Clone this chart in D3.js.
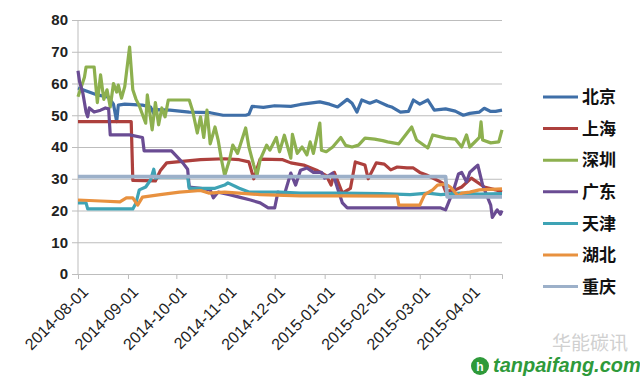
<!DOCTYPE html>
<html lang="zh">
<head>
<meta charset="UTF-8">
<title>碳价走势</title>
<script src="https://cdn.jsdelivr.net/npm/d3@7"></script>
<style>
  body { margin: 0; background: #fff; }
  #chart { width: 640px; height: 384px; }
  .ytick text { font: bold 15px "Liberation Sans", Arial, sans-serif; fill: #222; }
  .xtick text { font: 16px "Liberation Sans", Arial, sans-serif; fill: #222; }
  .legend text { font: bold 17px "Noto Sans CJK SC", sans-serif; fill: #111; }
</style>
</head>
<body>
<div id="chart"></div>
<script>
  // series names, in drawing order
  var names = ["北京", "上海", "深圳", "广东", "天津", "湖北", "重庆"];
  var colors = ["#3f6fa8", "#ad403d", "#8db04f", "#6a4c93", "#3ea3b5", "#e8913f", "#9cb0c9"];
  var yTicks = [0, 10, 20, 30, 40, 50, 60, 70, 80];

  var beijing = [["2014-08-01",58.6],["2014-08-07",57.5],["2014-08-13",56.4],["2014-08-20",55.7],["2014-08-23",53.5],
    ["2014-08-25",48],["2014-08-26",53.2],["2014-08-30",53.5],["2014-09-10",53.2],["2014-09-15",52.6],["2014-09-17",50.5],
    ["2014-09-19",51.8],["2014-09-27",51.6],["2014-10-09",51],["2014-10-22",50.8],["2014-10-30",50],["2014-11-13",50],
    ["2014-11-15",50.3],["2014-11-17",52.8],["2014-11-24",52.5],["2014-12-01",53],["2014-12-11",52.8],["2014-12-17",53.4],
    ["2014-12-23",53.8],["2014-12-29",54.2],["2015-01-04",53.5],["2015-01-09",52.6],["2015-01-15",55],["2015-01-18",53.8],
    ["2015-01-21",51],["2015-01-24",54.8],["2015-01-29",53.8],["2015-02-02",54.6],["2015-02-09",53],["2015-02-12",52.5],
    ["2015-02-17",51],["2015-02-22",51.2],["2015-02-25",54.8],["2015-03-01",53.5],["2015-03-06",54.8],["2015-03-10",51.6],
    ["2015-03-17",52],["2015-03-23",51.3],["2015-03-28",50],["2015-04-01",50.6],["2015-04-07",51],["2015-04-10",52.2],
    ["2015-04-14",51.2],["2015-04-17",51.2],["2015-04-21",51.6]];

  var shanghai = [["2014-08-01",48],["2014-09-03",48],["2014-09-04",29.5],["2014-09-18",29.3],["2014-09-21",32.5],
    ["2014-09-25",35],["2014-10-03",35.4],["2014-10-16",36],["2014-10-31",36.3],["2014-11-09",36],["2014-11-15",35.3],
    ["2014-11-18",30],["2014-11-22",36.2],["2014-12-06",36],["2014-12-11",35],["2014-12-19",34.3],["2014-12-27",32.7],
    ["2015-01-02",31],["2015-01-05",28],["2015-01-07",32],["2015-01-12",25.5],["2015-01-17",27],["2015-01-20",35.3],
    ["2015-01-26",34.3],["2015-01-28",30],["2015-02-02",35],["2015-02-07",34.6],["2015-02-11",32.8],["2015-02-15",33.7],
    ["2015-02-21",33.4],["2015-02-25",33.4],["2015-03-01",32],["2015-03-06",31],["2015-03-10",30],["2015-03-15",28.7],
    ["2015-03-17",26],["2015-03-23",26.5],["2015-03-27",27.4],["2015-04-02",30.2],["2015-04-10",27.4],["2015-04-17",26.5],
    ["2015-04-21",25.8]];

  var shenzhen = [["2014-08-01",55.8],["2014-08-05",62],["2014-08-06",65.2],["2014-08-11",65.2],["2014-08-13",54],
    ["2014-08-15",62.7],["2014-08-17",55],["2014-08-19",58],["2014-08-21",52.6],["2014-08-23",60],["2014-08-25",57.3],
    ["2014-08-26",59.5],["2014-08-28",55.4],["2014-08-30",59],["2014-09-02",71.5],["2014-09-04",58],["2014-09-06",55],
    ["2014-09-08",53],["2014-09-12",47.5],["2014-09-13",56.4],["2014-09-16",45.4],["2014-09-18",54],["2014-09-20",47],
    ["2014-09-22",52.3],["2014-09-24",49.5],["2014-09-26",54.8],["2014-10-09",54.8],["2014-10-11",51.6],["2014-10-14",44.4],
    ["2014-10-16",49.5],["2014-10-18",43],["2014-10-20",51.6],["2014-10-22",41],["2014-10-25",46.3],["2014-10-27",42],
    ["2014-10-29",36],["2014-10-31",31],["2014-11-03",36],["2014-11-05",40.6],["2014-11-08",38],["2014-11-13",46],
    ["2014-11-15",40],["2014-11-18",34.3],["2014-11-20",31],["2014-11-22",36],["2014-11-26",40.6],["2014-11-28",39],
    ["2014-12-02",43],["2014-12-04",38.5],["2014-12-07",43.7],["2014-12-11",36.5],["2014-12-12",44],["2014-12-15",38],
    ["2014-12-18",40],["2014-12-21",37.5],["2014-12-23",41.6],["2014-12-25",38],["2014-12-29",47.5],["2014-12-30",39],
    ["2015-01-02",38.5],["2015-01-06",40],["2015-01-11",43],["2015-01-14",40.5],["2015-01-18",40],["2015-01-22",40.6],
    ["2015-01-26",42.8],["2015-02-01",42.5],["2015-02-06",42],["2015-02-09",41.6],["2015-02-16",41],["2015-02-24",46.3],
    ["2015-02-27",42.2],["2015-03-06",39.7],["2015-03-09",43.8],["2015-03-17",42.8],["2015-03-23",42.5],["2015-03-27",40],
    ["2015-03-30",43.8],["2015-04-01",40],["2015-04-04",41.5],["2015-04-07",43],["2015-04-08",47.9],["2015-04-09",42.2],
    ["2015-04-14",41.3],["2015-04-19",41.6],["2015-04-21",45.4]];

  var guangdong = [["2014-08-01",64],["2014-08-02",60.5],["2014-08-04",57],["2014-08-06",51],["2014-08-07",49.5],
    ["2014-08-08",52.3],["2014-08-11",51],["2014-08-15",51.6],["2014-08-18",52.3],["2014-08-20",52],["2014-08-21",43.8],
    ["2014-09-02",43.8],["2014-09-10",43],["2014-09-11",38.8],["2014-09-28",38.8],["2014-10-05",35],["2014-10-08",33],
    ["2014-10-09",27.4],["2014-10-16",27],["2014-10-22",26.5],["2014-10-24",24],["2014-10-27",25.8],["2014-11-03",25],
    ["2014-11-09",24.2],["2014-11-16",23.3],["2014-11-22",22.4],["2014-11-27",20.8],["2014-12-01",20.8],["2014-12-03",25.8],
    ["2014-12-07",25],["2014-12-11",31.8],["2014-12-14",28],["2014-12-17",32.7],["2014-12-21",33.4],["2014-12-25",32],
    ["2014-12-30",32],["2015-01-01",30.2],["2015-01-06",31.8],["2015-01-09",27],["2015-01-12",22.4],["2015-01-15",20.8],
    ["2015-03-14",20.8],["2015-03-17",20.2],["2015-03-22",26.5],["2015-03-25",31.5],["2015-03-27",32],["2015-03-30",29],
    ["2015-04-01",32],["2015-04-04",33.4],["2015-04-06",34.3],["2015-04-09",28],["2015-04-14",21.7],["2015-04-15",17.8],
    ["2015-04-18",20.2],["2015-04-20",18.8],["2015-04-21",20]];

  var tianjin = [["2014-08-01",22.4],["2014-08-06",22.4],["2014-08-07",20.5],["2014-09-04",20.5],["2014-09-06",22.4],
    ["2014-09-08",26.5],["2014-09-12",27.4],["2014-09-15",29.6],["2014-09-17",33],["2014-09-18",30.2],["2014-09-21",30.6],
    ["2014-10-08",30.6],["2014-10-09",27],["2014-10-25",27],["2014-10-31",28],["2014-11-02",28.7],["2014-11-09",27],
    ["2014-11-15",25.8],["2014-12-04",25.8],["2014-12-17",25.5],["2015-01-11",25.5],["2015-02-05",25.3],["2015-02-23",25],
    ["2015-03-06",25.5],["2015-03-14",25],["2015-03-26",25.5],["2015-04-07",25.2],["2015-04-21",25.3]];

  var hubei = [["2014-08-01",23.3],["2014-08-15",23],["2014-08-27",22.7],["2014-08-31",24],["2014-09-04",24],
    ["2014-09-07",21.7],["2014-09-10",24.2],["2014-09-21",25],["2014-10-03",25.8],["2014-10-16",26.3],["2014-10-21",25.5],
    ["2014-10-31",25.8],["2014-11-09",25.5],["2014-11-22",25],["2014-12-17",24.6],["2015-01-11",24.6],["2015-02-15",24.5],
    ["2015-02-16",21.7],["2015-03-01",21.7],["2015-03-04",25],["2015-03-09",26.5],["2015-03-12",28],["2015-03-17",28.3],
    ["2015-03-20",27.4],["2015-03-25",24.5],["2015-03-27",25.5],["2015-04-01",25.8],["2015-04-07",26.5],["2015-04-21",26.8]];

  var chongqing = [["2014-08-01",30.7],["2015-03-17",30.7],["2015-03-18",24.3],["2015-04-21",24.3]];

  var seriesData = [beijing, shanghai, shenzhen, guangdong, tianjin, hubei, chongqing];

  var width = 640, height = 384;
  var margin = { top: 20, right: 138, bottom: 110, left: 78 };
  var parse = d3.timeParse("%Y-%m-%d");

  var svg = d3.select("#chart").append("svg")
    .attr("width", width)
    .attr("height", height);

  var x = d3.scaleTime()
    .domain([parse("2014-08-01"), parse("2015-04-21")])
    .range([margin.left, width - margin.right]);

  var y = d3.scaleLinear()
    .domain([0, 80])
    .range([height - margin.bottom, margin.top]);

  // horizontal gridlines + y labels
  var yAxis = svg.append("g")
    .attr("transform", "translate(" + margin.left + ",0)")
    .call(d3.axisLeft(y).tickValues(yTicks).tickSize(-(width - margin.right - margin.left)).tickPadding(10));
  yAxis.select(".domain").remove();
  yAxis.selectAll(".tick").attr("class", "tick ytick");
  yAxis.selectAll(".tick line").attr("stroke", "#bdbdbd").attr("x1", -6);

  // vertical axis line
  svg.append("line")
    .attr("x1", margin.left).attr("x2", margin.left)
    .attr("y1", y(80)).attr("y2", y(0))
    .attr("stroke", "#bdbdbd");

  // x axis with monthly ticks
  var xAxis = svg.append("g")
    .attr("transform", "translate(0," + y(0) + ")")
    .call(d3.axisBottom(x).ticks(d3.timeMonth.every(1)).tickFormat(d3.timeFormat("%Y-%m-%d")).tickSize(5));
  xAxis.select(".domain").attr("stroke", "#bdbdbd");
  xAxis.selectAll(".tick").attr("class", "tick xtick");
  xAxis.selectAll(".tick line").attr("stroke", "#bdbdbd");
  xAxis.selectAll(".tick text")
    .attr("text-anchor", "end")
    .attr("dx", "-0.1em")
    .attr("dy", "0.55em")
    .attr("transform", "translate(0,6) rotate(-45)");

  // lines
  var line = d3.line()
    .x(function(d) { return x(parse(d[0])); })
    .y(function(d) { return y(d[1]); });

  svg.append("g").selectAll("path")
    .data(seriesData)
    .join("path")
    .attr("d", line)
    .attr("fill", "none")
    .attr("stroke", function(d, i) { return colors[i]; })
    .attr("stroke-width", function(d, i) { return i === 6 ? 3.8 : 3.2; })
    .attr("stroke-linejoin", "round");

  // legend
  var legend = svg.append("g").attr("class", "legend")
    .selectAll("g")
    .data(names)
    .join("g")
    .attr("transform", function(d, i) { return "translate(543," + (97 + i * 31.6) + ")"; });
  legend.append("line")
    .attr("x1", 0).attr("x2", 35)
    .attr("stroke", function(d, i) { return colors[i]; })
    .attr("stroke-width", 3);
  legend.append("text")
    .attr("x", 39)
    .attr("dy", "0.36em")
    .text(function(d) { return d; });

  // watermark
  svg.append("text")
    .attr("x", 552).attr("y", 350)
    .style("font", "19px 'Noto Sans CJK SC', sans-serif")
    .attr("fill", "#d0d0d0")
    .text("华能碳讯");
  svg.append("circle")
    .attr("cx", 480).attr("cy", 366).attr("r", 9)
    .attr("fill", "#2e9a3a");
  svg.append("text")
    .attr("x", 480).attr("y", 371)
    .attr("text-anchor", "middle")
    .style("font", "bold 12px 'Liberation Sans', sans-serif")
    .attr("fill", "#fff")
    .text("h");
  svg.append("text")
    .attr("x", 493).attr("y", 372)
    .style("font", "italic bold 20px 'Liberation Sans', Arial, sans-serif")
    .attr("fill", "#2e9a3a")
    .text("tanpaifang.com");
</script>
</body>
</html>
